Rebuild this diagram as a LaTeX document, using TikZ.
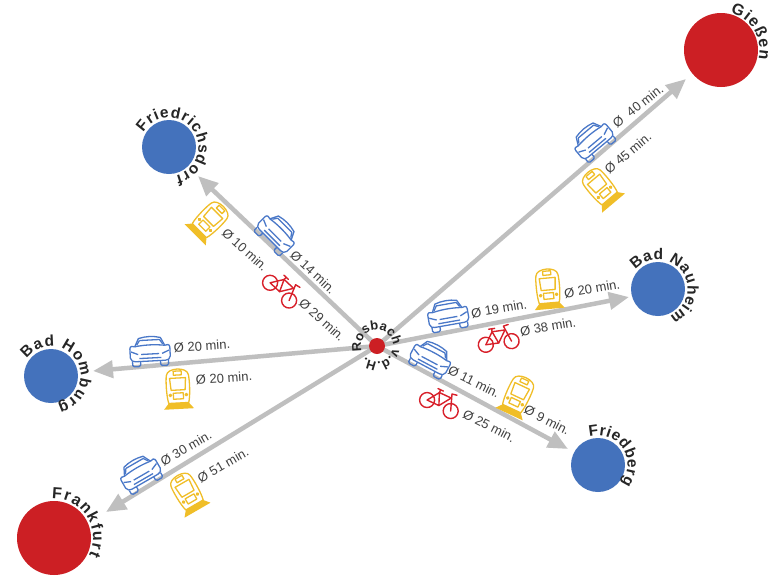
\documentclass[tikz,border=0pt]{standalone}
\usepackage{fontspec}
\setmainfont{Liberation Sans}
\usetikzlibrary{arrows.meta,decorations.text}
\definecolor{roadgray}{HTML}{BFBFBF}
\definecolor{cityblue}{HTML}{4472BC}
\definecolor{cityred}{HTML}{CC1F24}
\definecolor{iconblue}{HTML}{4A78C8}
\definecolor{iconred}{HTML}{D8202A}
\definecolor{iconyellow}{HTML}{F0BE28}
\definecolor{labelgray}{HTML}{404040}
\definecolor{namegray}{HTML}{262626}
\tikzset{
  small city/.style={circle,fill=cityblue,minimum size=54pt,inner sep=0pt,outer sep=0pt},
  big city/.style={circle,fill=cityred,minimum size=74pt,inner sep=0pt,outer sep=0pt},
  hub/.style={circle,fill=cityred,minimum size=16pt,inner sep=0pt,outer sep=0pt},
  road/.style={draw=roadgray,line width=4.5pt,-{Triangle[length=20pt,width=17pt]}},
  time/.style={font=\fontsize{13}{14}\selectfont,text=labelgray,inner sep=0pt},
  pics/caricon/.style={code={
    \begin{scope}[draw=iconblue,line width=1.3pt,line join=round]
      \draw (-20,-3) .. controls (-20,-6) and (-17,-6) .. (-15,-5) -- (-11,-13) .. controls (-4,-15) and (4,-15) .. (11,-13) -- (15,-5) .. controls (17,-6) and (20,-6) .. (20,-3) -- (20,6) .. controls (20,9) and (17,10) .. (15,10) -- (-15,10) .. controls (-17,10) and (-20,9) .. (-20,6) -- cycle;
      \draw (-15,-5) .. controls (-5,-6.5) and (5,-6.5) .. (15,-5);
      \draw (-10,-11) -- (10,-11) -- (13,-6.5);
      \draw (-10,-11) -- (-13,-6.5);
      \draw (-19,0) -- (-12,3) (19,0) -- (12,3);
      \draw (-9,3) -- (9,3) (-11,7) -- (11,7);
      \draw[rounded corners=1.5pt] (-18,10) -- (-18,15) -- (-10,15) -- (-10,10);
      \draw[rounded corners=1.5pt] (18,10) -- (18,15) -- (10,15) -- (10,10);
    \end{scope}}},
  pics/trainicon/.style={code={
    \begin{scope}[draw=iconyellow,line width=1.3pt,line join=round]
      \fill[iconyellow] (-10,15) -- (10,15) -- (15,21) -- (-15,21) -- cycle;
      \draw (-10,15) .. controls (-12,8) and (-12,-8) .. (-11,-13) .. controls (-10,-21) and (10,-21) .. (11,-13) .. controls (12,-8) and (12,8) .. (10,15) -- cycle;
      \draw (-8,-10) -- (8,-10) -- (7,2) -- (-7,2) -- cycle;
      \draw (-4,-17) rectangle (4,-13);
      \draw (-5,5) rectangle (5,11);
      \draw (-8,7) circle (1.2pt) (8,7) circle (1.2pt);
    \end{scope}}},
  pics/bikeicon/.style={code={
    \begin{scope}[draw=iconred,line width=1.4pt,line join=round,line cap=round]
      \draw (-13,5) circle (7.5pt) (13,5) circle (7.5pt);
      \draw (-13,5) -- (0,5) -- (-5,-7) -- cycle;
      \draw (-5,-7) -- (8,-7) -- (0,5);
      \draw (13,5) -- (7,-11) -- (12,-12);
      \draw (-8,-10) -- (-2,-10) (-5,-10) -- (-5,-7);
    \end{scope}}}
}
\newcommand{\cityname}[6]{%
  \path[decorate,decoration={text along path,text align={fit to path},
    text={|\bfseries\fontsize{#6}{#6}\selectfont\color{namegray}|#5}}]
    ([shift={(-#3:#2)}]#1.center) arc[start angle=-#3,end angle=-#4,radius=#2];}
\begin{document}
\begin{tikzpicture}[x=1pt,y=-1pt]
\useasboundingbox (0,0) rectangle (780,582);
\fill[white] (0,0) rectangle (780,582);
% towns
\node[big city] (giessen) at (721,50) {};
\node[big city] (frankfurt) at (54,538) {};
\node[small city] (friedrichsdorf) at (169,147) {};
\node[small city] (homburg) at (51,376) {};
\node[small city] (nauheim) at (658,289) {};
\node[small city] (friedberg) at (598,465) {};
\coordinate (tipgiessen) at (686,79);
\coordinate (tipfrankfurt) at (106,512);
\coordinate (tipfriedrichsdorf) at (198,176);
\coordinate (tiphomburg) at (93,371);
\coordinate (tipnauheim) at (629,297);
\coordinate (tipfriedberg) at (568,449);
\coordinate (hubpoint) at (377,346);
% roads
\draw[road] (hubpoint) -- (tipgiessen);
\draw[road] (hubpoint) -- (tipfrankfurt);
\draw[road] (hubpoint) -- (tipfriedrichsdorf);
\draw[road] (hubpoint) -- (tiphomburg);
\draw[road] (hubpoint) -- (tipnauheim);
\draw[road] (hubpoint) -- (tipfriedberg);
\node[hub] (rosbach) at (hubpoint) {};
% town names
\cityname{rosbach}{16}{200}{-135}{Rosbach v.d.H.}{13}
\cityname{giessen}{38.5}{76}{-14}{Gießen}{16}
\cityname{frankfurt}{39}{93}{-26}{Frankfurt}{16}
\cityname{friedrichsdorf}{29.5}{150}{-77}{Friedrichsdorf}{15.5}
\cityname{homburg}{29.5}{145}{-77}{Bad Homburg}{15.5}
\cityname{nauheim}{29.5}{140}{-67}{Bad Nauheim}{15.5}
\cityname{friedberg}{29.5}{107}{-38}{Friedberg}{15.5}
% cars
\pic[rotate=40] at (593,140) {caricon};
\pic[rotate=-45] at (277,233) {caricon};
\pic[rotate=3] at (150,351) {caricon};
\pic[rotate=10] at (448,315) {caricon};
\pic[rotate=-28] at (431,358) {caricon};
\pic[rotate=30] at (140,473) {caricon};
% trains
\pic[rotate=40] at (600,187) {trainicon};
\pic[rotate=-45] at (210,220) {trainicon};
\pic[rotate=3] at (178,388) {trainicon};
\pic[rotate=30] at (187,492) {trainicon};
\pic[rotate=5] at (548,288) {trainicon};
\pic[rotate=-25] at (518,395) {trainicon};
% bicycles
\pic[rotate=-43] at (283,288) {bikeicon};
\pic[rotate=8] at (498,338) {bikeicon};
\pic[rotate=-25] at (441,401) {bikeicon};
% travel times
\node[time,rotate=38] (t1) at (638,106) {Ø\ \ 40 min.};
\node[time,rotate=40] (t2) at (628,153) {Ø 45 min.};
\node[time,rotate=-42] (t3) at (245,250) {Ø 10 min.};
\node[time,rotate=-43] (t4) at (313,272) {Ø 14 min.};
\node[time,rotate=-42] (t5) at (322,320) {Ø 29 min.};
\node[time,rotate=10] (t6) at (499,309) {Ø 19 min.};
\node[time,rotate=10] (t7) at (548,327) {Ø 38 min.};
\node[time,rotate=10] (t8) at (592,289) {Ø 20 min.};
\node[time,rotate=-26] (t9) at (474,382) {Ø 11 min.};
\node[time,rotate=-27] (t10) at (547,420) {Ø 9 min.};
\node[time,rotate=-27] (t11) at (489,426) {Ø 25 min.};
\node[time,rotate=4] (t12) at (202,346) {Ø 20 min.};
\node[time,rotate=4] (t13) at (224,378) {Ø 20 min.};
\node[time,rotate=30] (t14) at (186,448) {Ø 30 min.};
\node[time,rotate=30] (t15) at (223,465) {Ø 51 min.};
\end{tikzpicture}
\end{document}
